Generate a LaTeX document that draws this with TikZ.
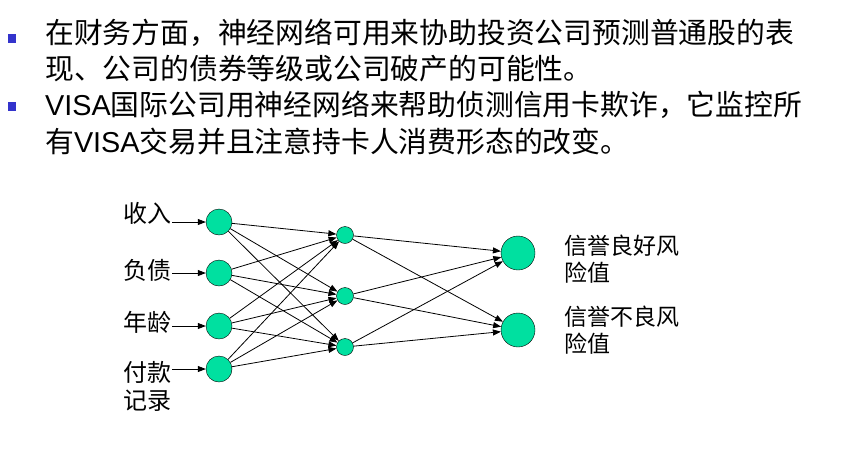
\documentclass[tikz,border=0pt]{standalone}
\usepackage{fontspec}
\setmainfont{Noto Sans CJK SC}
\newfontfamily\latinfont{Liberation Sans}
\usetikzlibrary{arrows.meta, positioning}
\definecolor{neurone}{RGB}{0,224,160}
\definecolor{puce}{RGB}{51,51,204}

\begin{document}
\begin{tikzpicture}[x=1pt, y=-1pt,
  titre/.style={anchor=base west, inner sep=0pt, font=\fontsize{28.8}{34}\selectfont},
  puceb/.style={fill=puce, minimum width=8pt, minimum height=9pt, inner sep=0pt},
  etiq/.style={inner sep=0pt, font=\fontsize{24}{27}\selectfont, align=left},
  entree/.style={circle, draw, fill=neurone, minimum size=26pt, inner sep=0pt},
  cache/.style={circle, draw, fill=neurone, minimum size=17pt, inner sep=0pt},
  sortie/.style={circle, draw, fill=neurone, minimum size=34pt, inner sep=0pt},
  fleche/.style={-{Triangle[length=8pt,width=6pt]}, line width=0.8pt}
]
  \useasboundingbox (0,0) rectangle (859,456);
  % texte
  \node[puceb] (b1) at (12,38) {};
  \node[puceb] (b2) at (12,106) {};
  \node[titre] (t1) at (45,43) {在财务方面，神经网络可用来协助投资公司预测普通股的表};
  \node[titre] (t2) at (45,79) {现、公司的债券等级或公司破产的可能性。};
  \node[titre] (t3) at (45,115) {{\latinfont VISA}国际公司用神经网络来帮助侦测信用卡欺诈，它监控所};
  \node[titre] (t4) at (45,152) {有{\latinfont VISA}交易并且注意持卡人消费形态的改变。};
  % reseau
  \node[entree] (i1) at (219,222) {};
  \node[entree] (i2) at (219,273) {};
  \node[entree] (i3) at (219,326) {};
  \node[entree] (i4) at (219,369) {};
  \node[cache] (h1) at (345,235) {};
  \node[cache] (h2) at (345,296) {};
  \node[cache] (h3) at (345,347) {};
  \node[sortie] (o1) at (518,253) {};
  \node[sortie] (o2) at (518,330) {};
  \node[etiq, anchor=east] (inc) at (172,213) {收入};
  \node[etiq, anchor=east] (dette) at (172,270) {负债};
  \node[etiq, anchor=east] (age) at (172,322) {年龄};
  \node[etiq, anchor=east] (pay) at (172,372) {付款};
  \node[etiq, anchor=east] (rec) at (172,401) {记录};
  \node[etiq, anchor=west, font=\fontsize{23}{27}\selectfont] (bon) at (564,259) {信誉良好风\\险值};
  \node[etiq, anchor=west, font=\fontsize{23}{27}\selectfont] (mauv) at (564,330) {信誉不良风\\险值};
  \draw[fleche] (inc.east |- i1) -- (i1.west);
  \draw[fleche] (dette.east |- i2) -- (i2.west);
  \draw[fleche] (age.east |- i3) -- (i3.west);
  \draw[fleche] (pay.east |- i4) -- (i4.west);
  \draw[fleche] (i1) -- (h1);
  \draw[fleche] (i1) -- (h2);
  \draw[fleche] (i1) -- (h3);
  \draw[fleche] (i2) -- (h1);
  \draw[fleche] (i2) -- (h2);
  \draw[fleche] (i2) -- (h3);
  \draw[fleche] (i3) -- (h1);
  \draw[fleche] (i3) -- (h2);
  \draw[fleche] (i3) -- (h3);
  \draw[fleche] (i4) -- (h1);
  \draw[fleche] (i4) -- (h2);
  \draw[fleche] (i4) -- (h3);
  \draw[fleche] (h1) -- (o1);
  \draw[fleche] (h1) -- (o2);
  \draw[fleche] (h2) -- (o1);
  \draw[fleche] (h2) -- (o2);
  \draw[fleche] (h3) -- (o1);
  \draw[fleche] (h3) -- (o2);
\end{tikzpicture}
\end{document}
